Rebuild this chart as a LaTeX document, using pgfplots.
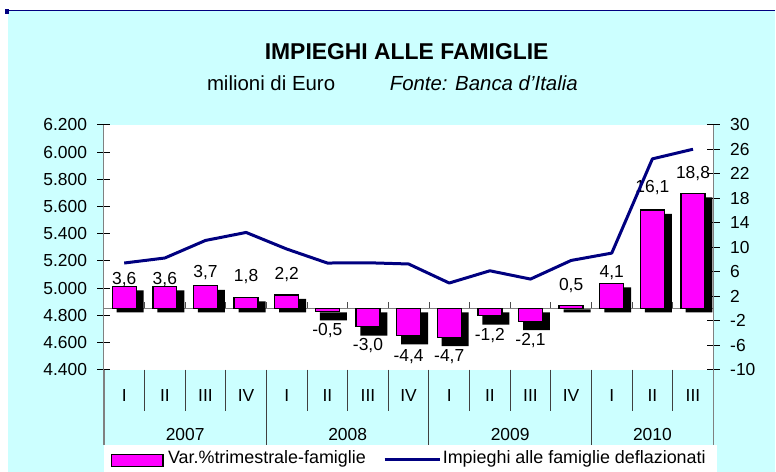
\documentclass[border=0pt]{standalone}
\usepackage{pgfplots}
\usepackage{pgfplotstable}
\pgfplotsset{compat=1.18}
\usepackage{fontspec}
\setmainfont{Liberation Sans}
\definecolor{bgcyan}{HTML}{CCFFFF}
\definecolor{navyline}{HTML}{000080}
\definecolor{barmag}{HTML}{FF00FF}

\pgfplotstableread{
x  var    shadow  laby   lab
1  3.6    3.6     4.7    3,6
2  3.6    3.6     4.7    3,6
3  3.7    3.7     5.9    3,7
4  1.8    1.8     5.2    1,8
5  2.2    2.2     5.5    2,2
6  -0.5   -1.3    -3.6   -0,5
7  -3.0   -3.8    -6.0   -3,0
8  -4.4   -5.2    -7.8   -4,4
9  -4.7   -5.5    -7.8   -4,7
10 -1.2   -2.0    -4.4   -1,2
11 -2.1   -2.9    -5.3   -2,1
12 0.5    0.5     3.7    0,5
13 4.1    4.1     5.8    4,1
14 16.1   16.1    19.7   16,1
15 18.8   18.8    22.1   18,8
}\bardata

\pgfplotstableread{
x  imp
1  5184
2  5221
3  5350
4  5409
5  5287
6  5184
7  5186
8  5177
9  5037
10 5127
11 5066
12 5203
13 5257
14 5950
15 6021
}\linedata

\begin{document}
\begin{tikzpicture}
% background
\fill[white] (0bp,0bp) rectangle (776bp,472bp);
\fill[bgcyan] (8bp,0bp) rectangle (776bp,461bp);
\draw[navyline, line width=1.5bp] (8bp,461.5bp) -- (776bp,461.5bp);
\fill[navyline] (5bp,458bp) rectangle (9bp,463bp);
% titles
\node[anchor=base, inner sep=0pt, font=\fontsize{23}{26}\selectfont\bfseries] at (407bp,412bp) {IMPIEGHI ALLE FAMIGLIE};
\node[anchor=base west, inner sep=0pt, font=\fontsize{20.5}{23}\selectfont] at (207bp,381.3bp) {milioni di Euro};
\node[anchor=base west, inner sep=0pt, font=\fontsize{20.5}{23}\selectfont\itshape] at (390bp,381.3bp) {Fonte: Banca d'Italia};

% ---- bars, right axis
\begin{axis}[
  at={(104bp,102bp)}, anchor=south west,
  scale only axis, width=610bp, height=245bp,
  xmin=0.5, xmax=15.5, ymin=-10, ymax=30,
  axis background/.style={fill=white},
  axis y line*=right, axis x line*=bottom,
  x axis line style={draw=none},
  y axis line style={draw=gray, line width=1.2bp},
  ytick={-10,-6,...,30},
  tick align=center, major tick length=13bp,
  ytick style={black, line width=0.8bp},
  xtick={1,...,15},
  xticklabels={I,II,III,IV,I,II,III,IV,I,II,III,IV,I,II,III},
  xtick style={draw=none},
  xticklabel style={anchor=base, inner sep=0pt, yshift=-25.3bp},
  extra x ticks={2.5,6.5,10.5,14},
  extra x tick labels={2007,2008,2009,2010},
  extra x tick style={xtick style={draw=none}, xticklabel style={yshift=-39.4bp}},
  ticklabel style={font=\fontsize{17.5}{20}\selectfont},
  /pgf/number format/assume math mode=true,
  yticklabel style={anchor=west, inner sep=0pt, xshift=10.2bp},
  clip=false,
]
\draw[gray, line width=1bp] (axis cs:0.5,0) -- (axis cs:15.5,0);
\pgfplotsinvokeforeach{1.5,2.5,3.5,4.5,5.5,6.5,7.5,8.5,9.5,10.5,11.5,12.5,13.5,14.5}{
  \draw[black!70, line width=0.8bp] (axis cs:#1,0) -- ++(0pt,6bp);
}
\addplot[ybar, bar width=27bp, bar shift=6bp, fill=black, draw=none, yshift=-4bp]
  table[x=x, y=shadow] {\bardata};
\addplot[ybar, bar width=24bp, bar shift=0pt, fill=barmag, draw=black, line width=1.3bp]
  table[x=x, y=var] {\bardata};
\addplot[draw=none, mark=none, nodes near coords, point meta=explicit symbolic,
  nodes near coords style={anchor=center, inner sep=0pt, font=\fontsize{17.5}{20}\selectfont, text=black}]
  table[x=x, y=laby, meta=lab] {\bardata};
\end{axis}

% ---- line, left axis
\begin{axis}[
  at={(104bp,102bp)}, anchor=south west,
  scale only axis, width=610bp, height=245bp,
  xmin=0.5, xmax=15.5, ymin=4400, ymax=6200,
  axis y line*=left, axis x line=none,
  y axis line style={draw=gray, line width=1.2bp},
  ytick={4400,4600,4800,5000,5200,5400,5600,5800,6000,6200},
  scaled y ticks=false,
  tick align=center, major tick length=13bp,
  ytick style={black, line width=0.8bp},
  yticklabel style={anchor=east, inner sep=0pt, xshift=-10.2bp, font=\fontsize{17.5}{20}\selectfont},
  /pgf/number format/fixed,
  /pgf/number format/1000 sep={.},
  /pgf/number format/assume math mode=true,
  clip=false,
]
\addplot[navyline, line width=3bp, mark=none, line join=round] table[x=x, y=imp] {\linedata};
\end{axis}

% category separators
\foreach \k in {1,2,3,5,6,7,9,10,11,13,14}{
  \draw[black!75, line width=1bp] ({104bp+40.6667bp*\k},102bp) -- ({104bp+40.6667bp*\k},61bp);
}
\foreach \k in {4,8,12}{
  \draw[black!75, line width=1bp] ({104bp+40.6667bp*\k},102bp) -- ({104bp+40.6667bp*\k},27bp);
}
\draw[gray, line width=1.2bp] (104bp,102bp) -- (104bp,27bp);
\draw[gray, line width=1.2bp] (714bp,102bp) -- (714bp,27bp);

% legend
\fill[white] (104bp,0bp) rectangle (718bp,27bp);
\draw[black, line width=1.5bp, fill=barmag] (111.7bp,5bp) rectangle (163.3bp,17bp);
\node[anchor=base west, inner sep=0pt, font=\fontsize{18}{20}\selectfont] at (168bp,8bp) {Var.\%trimestrale-famiglie};
\draw[navyline, line width=3bp] (385bp,12bp) -- (440bp,12bp);
\node[anchor=base west, inner sep=0pt, font=\fontsize{18}{20}\selectfont] at (443bp,8bp) {Impieghi alle famiglie deflazionati};
\end{tikzpicture}
\end{document}
